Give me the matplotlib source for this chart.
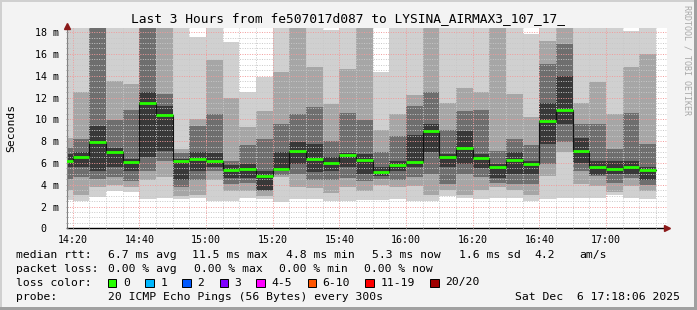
import matplotlib
matplotlib.use("Agg")
import matplotlib.pyplot as plt
from matplotlib.patches import Rectangle
import numpy as np

# bar start times, minutes after 14:00 (5 minute steps, 14:15 .. 17:10)
starts = list(range(15, 195, 5))

median = [6.2, 6.5, 7.95, 7.0, 6.08, 11.52, 10.37, 6.2, 6.36, 6.15, 5.35, 5.44,
          4.83, 5.44, 7.12, 6.36, 6.02, 6.72, 6.3, 5.17, 5.78, 6.08, 8.9, 6.57,
          7.34, 6.48, 5.65, 6.24, 5.93, 9.84, 10.85, 7.12, 5.62, 5.44, 5.65, 5.32]

# smoke bands (ms), outer band = min..max, inner bands closer to the median
band1_lo = [2.6, 2.5, 2.9, 3.45, 3.3, 2.7, 2.8, 2.7, 2.8, 2.5, 2.5, 2.8, 2.7, 2.4, 2.7, 2.7, 2.5, 2.5,
            2.6, 2.6, 2.7, 2.5, 2.5, 3.0, 2.8, 2.7, 2.8, 2.8, 2.5, 2.7, 2.8, 2.8, 2.8, 3.1, 2.8, 2.7]
band1_hi = [19, 19, 19, 19, 19, 19, 19, 19, 17.6, 19, 17.1, 12.5, 13.85, 19, 19, 19, 18.2, 19,
            19, 14.3, 19, 19, 19, 19, 19, 19, 19, 19, 17.8, 19, 19, 19, 19, 19, 18.1, 19]
band2_lo = [3.5, 3.1, 3.8, 4.0, 3.8, 4.4, 4.7, 3.0, 3.1, 4.4, 3.4, 3.4, 3.0, 4.7, 3.8, 3.7, 3.2, 3.8,
            3.4, 4.0, 3.8, 3.9, 3.1, 3.5, 3.1, 3.5, 3.8, 3.5, 3.1, 4.8, 7.0, 4.1, 3.9, 3.3, 3.9, 3.4]
band2_hi = [8.3, 12.5, 19, 13.5, 13.2, 19, 19, 7.3, 10.0, 15.4, 12.0, 9.3, 10.8, 14.3, 19, 14.8, 11.4, 14.6,
            19, 9.0, 10.5, 12.2, 19, 11.5, 12.9, 12.5, 19, 12.3, 10.2, 17.2, 19, 11.5, 13.4, 10.5, 14.8, 16.0]
band3_lo = [4.5, 4.7, 4.5, 4.7, 4.3, 5.3, 6.2, 3.8, 4.4, 5.3, 4.1, 4.2, 3.4, 4.9, 5.0, 4.4, 4.4, 4.6,
            4.3, 4.5, 4.4, 4.7, 5.0, 4.1, 5.0, 4.7, 4.2, 4.1, 4.1, 5.9, 7.9, 5.3, 4.8, 4.2, 4.6, 4.0]
band3_hi = [7.4, 8.2, 19, 9.9, 10.9, 19, 12.3, 6.9, 9.4, 10.5, 6.2, 7.6, 8.2, 9.6, 10.5, 11.1, 8.0, 10.6,
            9.9, 7.0, 8.5, 11.2, 12.5, 9.0, 10.8, 10.9, 7.1, 8.2, 7.6, 15.1, 16.9, 9.6, 9.6, 7.3, 10.6, 7.7]
band4_lo = [5.6, 5.6, 5.3, 5.6, 5.3, 6.5, 7.1, 4.4, 5.3, 5.6, 4.6, 4.6, 3.5, 5.3, 5.9, 5.2, 5.3, 5.6,
            5.0, 4.8, 5.3, 5.6, 7.0, 5.6, 5.9, 5.5, 4.6, 5.0, 5.0, 7.7, 9.6, 6.0, 4.9, 5.0, 5.0, 4.4]
band4_hi = [6.8, 7.0, 9.4, 7.4, 6.4, 12.5, 11.2, 6.4, 7.0, 6.9, 5.8, 5.9, 5.3, 7.0, 7.9, 7.7, 6.5, 6.9,
            6.8, 5.6, 6.2, 8.6, 9.6, 6.8, 8.9, 6.8, 5.9, 7.0, 6.2, 11.5, 14.0, 8.3, 6.2, 6.2, 6.2, 5.6]

y_ticks = [0, 2, 4, 6, 8, 10, 12, 14, 16, 18]
y_labels = ["0  ", "2 m", "4 m", "6 m", "8 m", "10 m", "12 m", "14 m", "16 m", "18 m"]
x_ticks = [20, 40, 60, 80, 100, 120, 140, 160, 180]
x_labels = ["14:20", "14:40", "15:00", "15:20", "15:40", "16:00", "16:20", "16:40", "17:00"]

loss_labels = ["0", "1", "2", "3", "4-5", "6-10", "11-19", "20/20"]
loss_colors = ["#26ff00", "#00b8ff", "#0059ff", "#7e00ff", "#ff00ff", "#ff5500", "#ff0000", "#a00000"]

W, H = 697, 310
MONO = "DejaVu Sans Mono"

fig = plt.figure(figsize=(W / 100, H / 100), dpi=100, facecolor="#f3f3f3")
ax = fig.add_axes([66.7 / W, (H - 228.3) / H, 600 / W, 200.3 / H], facecolor="white")

x = np.array(starts, dtype=float)
bands = [(band1_lo, band1_hi, "#d0d0d0"),
         (band2_lo, band2_hi, "#a6a6a6"),
         (band3_lo, band3_hi, "#6e6e6e"),
         (band4_lo, band4_hi, "#383838")]
for lo, hi, c in bands:
    lo = np.array(lo)
    hi = np.array(hi)
    ax.bar(x, hi - lo, bottom=lo, width=5, align="edge", color=c, linewidth=0, zorder=1)

# median: dark step line + green segments
med = np.array(median)
ax.step(np.append(x, x[-1] + 5), np.append(med, med[-1]), where="post",
        color="#111111", lw=0.8, zorder=3)
ax.hlines(med, x, x + 5, color="#26ff00", lw=2.0, zorder=4)

ax.set_xlim(18.2, 198.2)
ax.set_ylim(0, 18.38)

ax.set_xticks(x_ticks)
ax.set_xticklabels(x_labels)
ax.set_xticks(np.arange(20, 198, 5), minor=True)
ax.set_yticks(y_ticks)
ax.set_yticklabels(y_labels)
ax.set_yticks(np.arange(0, 18.4, 0.5), minor=True)

ax.set_axisbelow(False)
ax.grid(which="minor", color="#c8c8c8", linestyle=(0, (1, 1.5)), lw=0.7)
ax.grid(which="major", color="#f29a9a", linestyle=(0, (1, 1.5)), lw=0.7)

for lab in ax.get_xticklabels() + ax.get_yticklabels():
    lab.set_family(MONO)
    lab.set_fontsize(7.2)
ax.tick_params(axis="both", which="both", length=2, width=0.6, color="#888888", direction="inout")
ax.tick_params(axis="x", pad=3.5)
ax.tick_params(axis="y", pad=4.5)

for s in ["top", "right"]:
    ax.spines[s].set_visible(False)
ax.spines["left"].set_color("#808080")
ax.spines["left"].set_linewidth(0.8)
ax.spines["bottom"].set_color("black")
ax.spines["bottom"].set_linewidth(1.0)
ax.plot([198.2], [0], marker=">", color="#8b1a1a", ms=4, clip_on=False, zorder=6)
ax.plot([18.2], [18.6], marker="^", color="#8b1a1a", ms=4, clip_on=False, zorder=6)


def px(xp, yp):
    return xp / W, 1 - yp / H


fig.text(*px(348, 19), "Last 3 Hours from fe507017d087 to LYSINA_AIRMAX3_107_17_",
         family=MONO, fontsize=9.3, ha="center", va="center")
fig.text(*px(11, 128), "Seconds", family=MONO, fontsize=8.2, rotation=90, ha="center", va="center")
fig.text(*px(687, 60), "RRDTOOL / TOBI OETIKER", family=MONO, fontsize=6,
         rotation=270, color="#a8a8a8", ha="center", va="center")

fs = 8.2
rows = [
    (255, [(16, "median rtt:"), (107.6, "6.7 ms avg"), (192.4, "11.5 ms max"), (285.8, "4.8 ms min"),
           (372, "5.3 ms now"), (458.7, "1.6 ms sd"), (534.7, "4.2"), (579, "am/s")]),
    (268.5, [(16, "packet loss:"), (107.6, "0.00 % avg"), (193.8, "0.00 % max"),
             (279, "0.00 % min"), (364.4, "0.00 % now")]),
    (282.5, [(16, "loss color:")]),
    (296.5, [(16, "probe:"), (107.6, "20 ICMP Echo Pings (56 Bytes) every 300s")]),
]
for yy, items in rows:
    for xx, t in items:
        fig.text(*px(xx, yy), t, family=MONO, fontsize=fs, ha="left", va="center")
fig.text(*px(680, 296.5), "Sat Dec  6 17:18:06 2025", family=MONO, fontsize=fs, ha="right", va="center")

box_x = [108, 145.3, 182.2, 219.6, 256.4, 307.6, 365.3, 430.2]
for bx, c, lab in zip(box_x, loss_colors, loss_labels):
    fig.add_artist(Rectangle((bx / W, 1 - 287 / H), 8.4 / W, 8.4 / H, transform=fig.transFigure,
                             facecolor=c, edgecolor="black", lw=0.7))
    fig.text(*px(bx + 15, 282.5), lab, family=MONO, fontsize=fs, ha="left", va="center")

# 3d frame border
fig.add_artist(Rectangle((0, 1 - 2 / H), 1, 2 / H, transform=fig.transFigure, color="#d0d0d0", lw=0))
fig.add_artist(Rectangle((0, 0), 2 / W, 1, transform=fig.transFigure, color="#d0d0d0", lw=0))
fig.add_artist(Rectangle((1 - 3 / W, 0), 3 / W, 1, transform=fig.transFigure, color="#a0a0a0", lw=0))
fig.add_artist(Rectangle((0, 0), 1, 3 / H, transform=fig.transFigure, color="#a0a0a0", lw=0))

fig.savefig("out.png", dpi=100, facecolor=fig.get_facecolor())
